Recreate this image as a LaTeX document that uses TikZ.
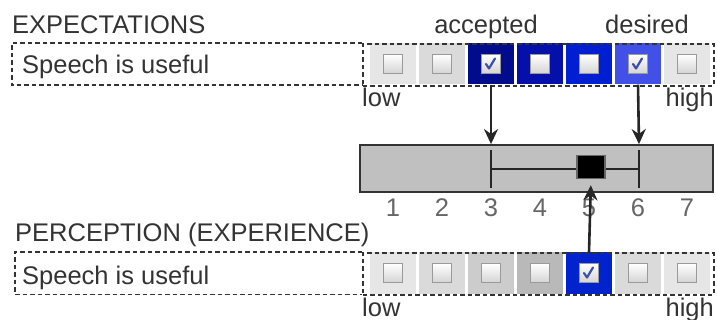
\documentclass[tikz,border=0pt]{standalone}
\usepackage{fontspec}
\setmainfont{Liberation Sans}
\usetikzlibrary{arrows.meta}

\definecolor{ink}{HTML}{333333}
\definecolor{numgrey}{HTML}{666666}
\definecolor{gA}{HTML}{E6E6E6}
\definecolor{gB}{HTML}{DADADA}
\definecolor{gC}{HTML}{CCCCCC}
\definecolor{gD}{HTML}{B9B9B9}
\definecolor{bA}{HTML}{000C8C}
\definecolor{bB}{HTML}{0510AA}
\definecolor{bC}{HTML}{001ED2}
\definecolor{bD}{HTML}{4150E6}
\definecolor{bE}{HTML}{0023CD}
\definecolor{boxedge}{HTML}{9A9A9A}
\definecolor{boxlow}{HTML}{D4D4D4}
\definecolor{tickblue}{HTML}{3A4FA8}
\definecolor{barfill}{HTML}{C0C0C0}

\tikzset{
  txt/.style={font=\fontsize{25.5}{30}\selectfont, text=ink, inner sep=0pt},
  num/.style={font=\fontsize{25.5}{30}\selectfont, text=numgrey, inner sep=0pt},
  dashline/.style={draw=ink, line width=1.8pt, dash pattern=on 4.5pt off 3pt},
  dashbox/.style={dashline, inner sep=0pt, anchor=north west},
  slot/.style={inner sep=0pt, anchor=north west, draw=none},
  cell/.style={minimum width=46pt, minimum height=41pt, inner sep=0pt, draw=none},
  chkbox/.style={minimum width=19pt, minimum height=19pt, inner sep=0pt,
    draw=boxedge, line width=1.8pt, top color=white, bottom color=boxlow},
  tickmark/.style={draw=tickblue, line width=2.2pt, line cap=round, line join=round},
  arr/.style={draw=black!85, line width=2.6pt, -{Stealth[length=15pt, width=14pt]}},
  whisker/.style={draw=black!85, line width=2.6pt},
}

\begin{document}
\begin{tikzpicture}[x=1pt, y=-1pt]
  \useasboundingbox (0,0) rectangle (717,320);

  % ---------- expectations ----------
  \node[txt, anchor=base west] (exphead) at (12,34) {EXPECTATIONS};
  \foreach \i/\c in {1/gA,2/gB,3/bA,4/bB,5/bC,6/bD,7/gA} {
    \node[cell, fill=\c] (e\i) at ({393+49*(\i-1)},64) {};
    \node[chkbox] (eb\i) at (e\i) {};
  }
  \draw[tickmark] ([shift={(-5pt,0pt)}]eb3.center) -- ++(3pt,-4.5pt) -- ++(6pt,10pt);
  \draw[tickmark] ([shift={(-5pt,0pt)}]eb6.center) -- ++(3pt,-4.5pt) -- ++(6pt,10pt);
  \node[slot, minimum width=350pt, minimum height=42pt] (elabel) at (12,43) {};
  \draw[dashline] (elabel.north east) -- (elabel.north west)
                  -- (elabel.south west) -- (elabel.south east);
  \node[dashbox, minimum width=351pt, minimum height=42pt] (escale) at (362,43) {};
  \node[txt, anchor=base west] (etext) at (22,74) {Speech is useful};
  \node[txt, anchor=base] (accepted) at (486,34) {accepted};
  \node[txt, anchor=base] (desired) at (647,34) {desired};
  \node[txt, anchor=base west] (elow) at (362,107) {low};
  \node[txt, anchor=base east] (ehigh) at (714,107) {high};

  % ---------- result bar ----------
  \node[draw=ink, line width=1.8pt, fill=barfill, minimum width=353pt,
        minimum height=47pt, inner sep=0pt] (bar) at (536.5,168.5) {};
  \coordinate (lo) at (491,169);
  \coordinate (hi) at (639,169);
  \draw[whisker] (lo) -- (hi);
  \draw[whisker] ([yshift=19pt]lo) -- ([yshift=-19pt]lo);
  \draw[whisker] ([yshift=19pt]hi) -- ([yshift=-19pt]hi);
  \node[fill=black, draw=black!60, line width=1.5pt, minimum width=28pt,
        minimum height=23pt, inner sep=0pt] (mean) at (591,167) {};
  \draw[arr] (e3.south) -- (lo |- bar.north);
  \draw[arr] (e6.south) -- (hi |- bar.north);

  \foreach \i in {1,...,7} {
    \node[num, anchor=base] (n\i) at ({393+49*(\i-1)},217) {\i};
  }

  % ---------- perception ----------
  \node[txt, anchor=base west] (perchead) at (15,242) {PERCEPTION (EXPERIENCE)};
  \foreach \i/\c in {1/gA,2/gB,3/gC,4/gD,5/bE,6/gB,7/gA} {
    \node[cell, fill=\c] (p\i) at ({393+49*(\i-1)},273) {};
    \node[chkbox] (pb\i) at (p\i) {};
  }
  \draw[tickmark] ([shift={(-5pt,0pt)}]pb5.center) -- ++(3pt,-4.5pt) -- ++(6pt,10pt);
  \node[slot, minimum width=347pt, minimum height=42pt] (plabel) at (15,252) {};
  \draw[dashline] (plabel.north east) -- (plabel.north west)
                  -- (plabel.south west) -- (plabel.south east);
  \node[dashbox, minimum width=351pt, minimum height=42pt] (pscale) at (362,252) {};
  \node[txt, anchor=base west] (ptext) at (22,284) {Speech is useful};
  \node[txt, anchor=base west] (plow) at (362,316) {low};
  \node[txt, anchor=base east] (phigh) at (714,316) {high};

  \draw[arr, shorten >=6pt] (p5.north) -- (mean.south);
\end{tikzpicture}
\end{document}
